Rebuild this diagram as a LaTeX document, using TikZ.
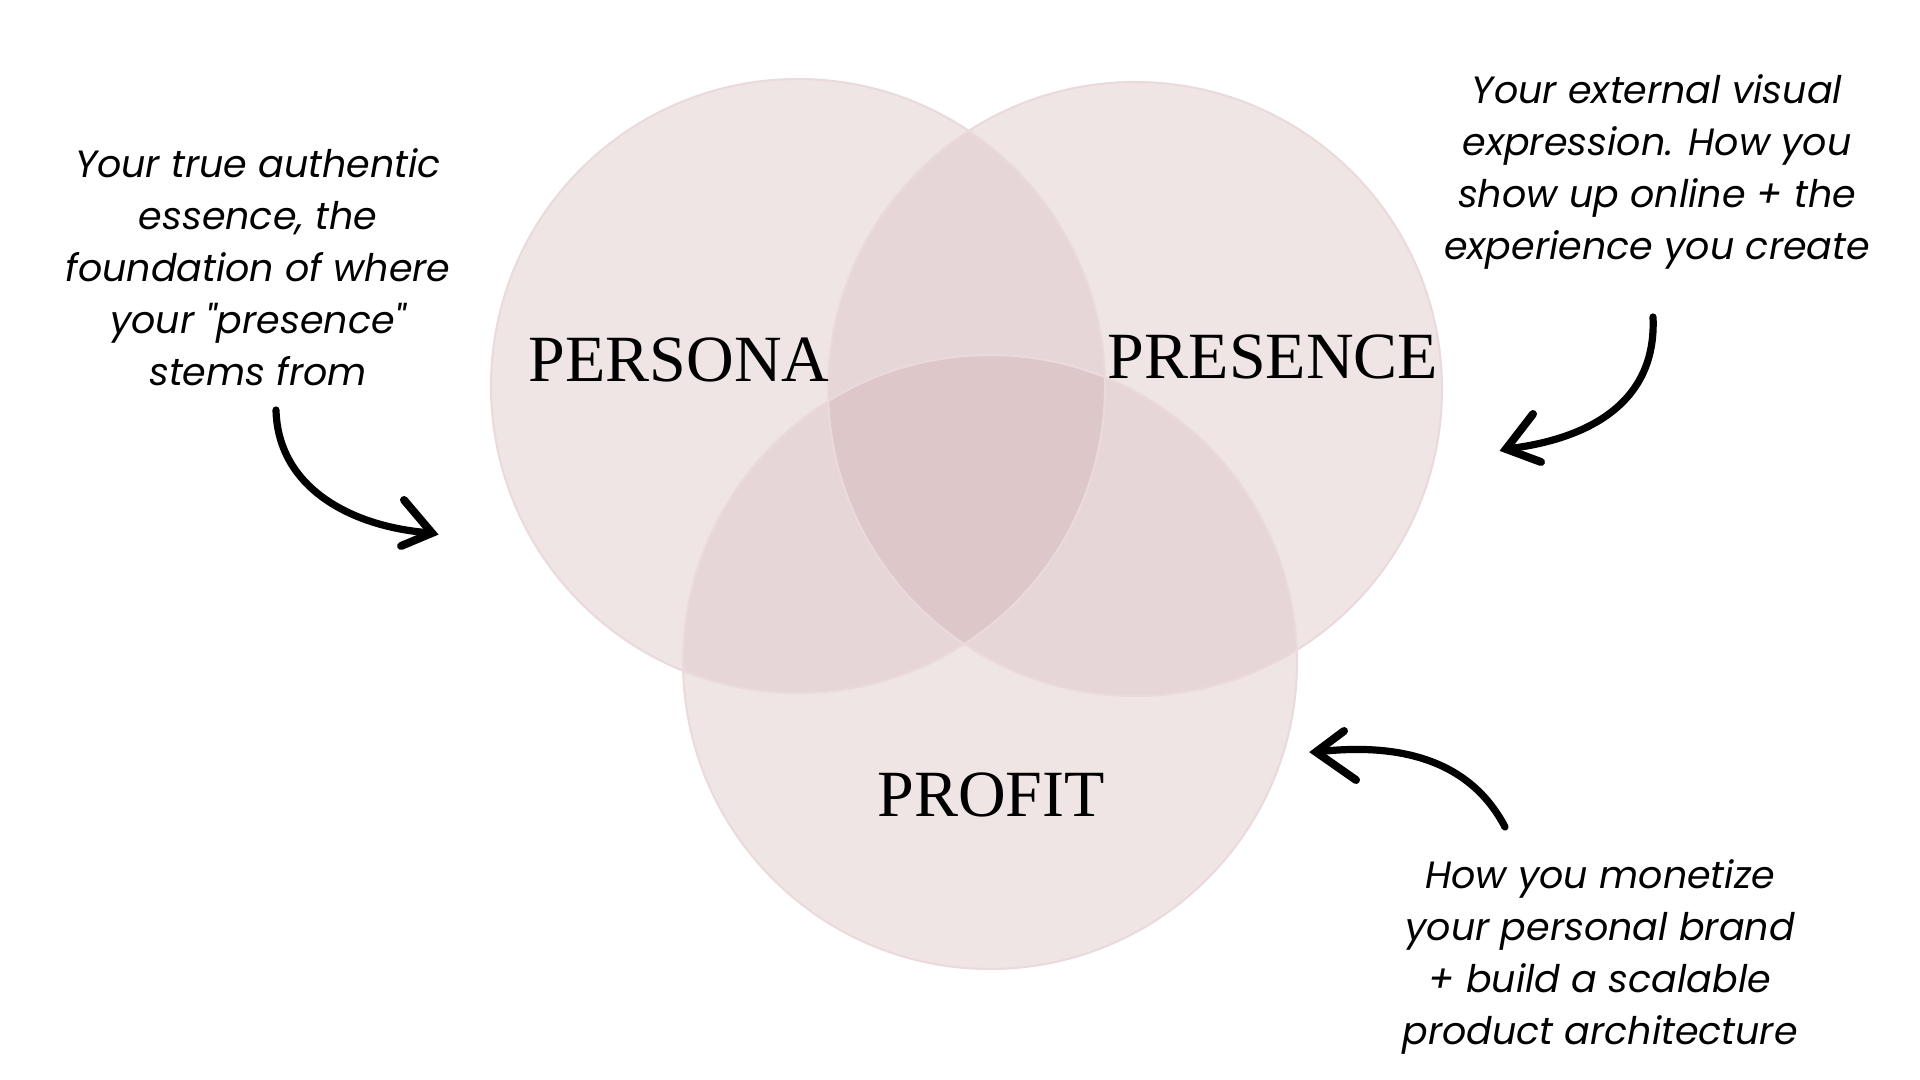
\documentclass[tikz,border=0pt]{standalone}
\usepackage{fontspec}
\setmainfont{Liberation Serif}
\newfontfamily\notefont{Poppins}
\begin{document}
\begin{tikzpicture}[x=0.5pt,y=-0.5pt,
  label/.style={font=\fontsize{33}{36}\selectfont, text=black, inner sep=0pt},
  note/.style={font=\notefont\itshape\fontsize{19}{26}\selectfont, align=center, text=black, inner sep=0pt},
  arr/.style={line width=3.6pt, line cap=round, line join=round, black},
  barb/.style={line width=4pt, line cap=round, black}]
\definecolor{one}{RGB}{239,229,229}
\definecolor{two}{RGB}{230,214,215}
\definecolor{three}{RGB}{222,199,201}
\definecolor{rim}{RGB}{234,218,219}
\useasboundingbox[fill=white] (0,0) rectangle (1920,1080);
\coordinate (A) at (798,386);
\coordinate (B) at (1135,389);
\coordinate (C) at (990,662);
\def\R{307}
% single
\fill[one] (A) circle (\R);
\fill[one] (B) circle (\R);
\fill[one] (C) circle (\R);
% double
\begin{scope}\clip (A) circle (\R); \fill[two] (B) circle (\R); \fill[two] (C) circle (\R);\end{scope}
\begin{scope}\clip (B) circle (\R); \fill[two] (C) circle (\R);\end{scope}
% triple
\begin{scope}\clip (A) circle (\R); \clip (B) circle (\R); \fill[three] (C) circle (\R);\end{scope}
% rims
\draw[rim, line width=1pt] (A) circle (\R);
\draw[rim, line width=1pt] (B) circle (\R);
\draw[rim, line width=1pt] (C) circle (\R);
% labels
\node[label] (persona) at (679,360) {PERSONA};
\node[label] (presence) at (1273,357) {PRESENCE};
\node[label] (profit) at (991,795) {PROFIT};
% notes
\node[note] (n1) at (258,267) {Your true authentic\\essence, the\\foundation of where\\your "presence"\\stems from};
\node[note] (n2) at (1657,172) {Your external visual\\expression. How you\\show up online + the\\experience you create};
\node[note] (n3) at (1600,957) {How you monetize\\your personal brand\\+ build a scalable\\product architecture};
% arrows
\coordinate (a1s) at (276,410);
\coordinate (a1t) at (432,533);
\coordinate (a1u) at (404,500);
\coordinate (a1l) at (401,546);
\draw[arr] (a1s) .. controls (278,490) and (355,528) .. (a1t);
\draw[barb] (a1u) -- (a1t) -- (a1l);
\coordinate (a2s) at (1653,317);
\coordinate (a2t) at (1506,449);
\coordinate (a2u) at (1533,414);
\coordinate (a2l) at (1541,462);
\draw[arr] (a2s) .. controls (1657,405) and (1585,440) .. (a2t);
\draw[barb] (a2u) -- (a2t) -- (a2l);
\coordinate (a3s) at (1505,827);
\coordinate (a3t) at (1316,752);
\coordinate (a3u) at (1344,731);
\coordinate (a3l) at (1356,780);
\draw[arr] (a3s) .. controls (1470,760) and (1400,742) .. (a3t);
\draw[barb] (a3u) -- (a3t) -- (a3l);
\end{tikzpicture}
\end{document}
